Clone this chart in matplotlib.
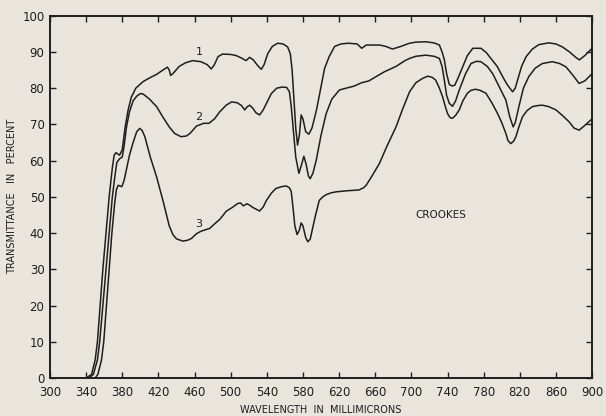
import matplotlib
matplotlib.use("Agg")
import matplotlib.pyplot as plt

# transmittance curves (wavelength in millimicrons, percent)
wl1 = [340, 346, 350, 352.5, 355.5, 358.5, 362, 365.5, 369, 371, 373, 377, 380, 383, 386.5, 390, 395,
       403, 410, 418, 425, 430, 432, 433.5, 436, 443, 450, 458, 467, 474, 478.5, 482, 486, 491, 500,
       506, 512, 517, 521, 525, 530, 534, 537, 541, 546, 552, 558, 563, 566, 568, 570, 572, 574, 576,
       578, 580, 583, 586.5, 590, 595, 600, 604, 609, 615, 622, 630, 640, 645, 650, 665, 672, 679, 687,
       698, 705, 716, 725, 731, 734, 736.5, 739, 742, 745, 748, 752, 757, 762, 768, 777, 783, 788, 795,
       801, 806, 812, 815, 817.5, 822, 827, 834, 841, 852, 860, 867, 875, 882, 886, 892, 898.5, 900]
t1 = [0, 1, 5, 10, 20, 30, 40, 50, 58, 61.5, 62.2, 61.5, 63, 69, 74, 77.5, 80,
      81.8, 82.8, 83.8, 85, 85.8, 85, 83.5, 84, 86, 87, 87.6, 87.3, 86.5, 85.3, 86.5, 88.7, 89.4, 89.3,
      89, 88.3, 87.6, 88.5, 87.8, 86.2, 85.2, 86.5, 89.5, 91.5, 92.4, 92.2, 91.4, 89.5, 85, 77, 69, 64.3, 67,
      72.6, 71.5, 68, 67.3, 69, 74, 80.4, 85.5, 88.7, 91.5, 92.2, 92.4, 92.2, 91, 91.9, 91.9, 91.5, 90.8, 91.4,
      92.4, 92.7, 92.8, 92.5, 91.9, 90, 87.8, 84, 81, 80.6, 80.8, 83, 86, 89, 91, 91, 89.8, 88.2, 86,
      83.2, 81, 79, 80, 82.2, 86, 88.7, 90.8, 92, 92.5, 92.2, 91.4, 90, 88.5, 87.8, 89, 90.6, 91]

wl2 = [343, 348, 352.5, 355, 358.5, 362, 365.5, 369, 372, 374, 377, 380, 382, 384.7, 388, 392, 396, 400,
       403, 410, 418, 425, 432, 438, 445, 451, 455, 462, 470, 476, 482, 488, 495, 501, 507, 512, 515.5,
       518, 521, 524, 528, 532, 536, 540, 545, 551, 557, 562, 565, 567, 569.5, 572, 575.5, 578, 581,
       583.5, 586, 588, 591, 594.6, 600, 605.7, 612, 620.4, 631, 637, 645, 653, 661, 670, 683, 688, 693,
       698, 705, 716, 725, 731, 734, 736.5, 739, 742, 745.6, 749, 753, 760, 766, 772, 777, 784, 790, 797,
       804.6, 809, 812.7, 815, 819, 824, 830, 837, 845, 856, 864, 871, 879, 885.6, 892, 898.5, 900]
t2 = [0, 1, 5, 10, 20, 30, 40, 50, 56, 59.5, 60.5, 61, 64, 69.3, 73.5, 76.5, 77.8, 78.5,
      78.4, 77, 74.9, 72, 69.3, 67.5, 66.6, 66.8, 67.5, 69.5, 70.3, 70.3, 71.5, 73.5, 75.3, 76.2, 76, 75.2, 74,
      74.8, 75.3, 74.6, 73.2, 72.6, 74, 76, 78.5, 80, 80.3, 80.2, 79, 75, 68, 61, 56.5, 58.5, 61.2,
      59, 55.8, 55, 56.5, 60, 67, 73, 77, 79.5, 80.2, 80.6, 81.5, 82, 83.2, 84.5, 86, 86.8, 87.6,
      88.2, 88.8, 89.1, 88.8, 88.2, 86, 82.2, 78, 75.8, 75, 76.5, 79.5, 84, 86.8, 87.4, 87.3, 86, 84, 80.5,
      76.7, 72, 69.3, 70.5, 74.9, 80, 83.2, 85.5, 86.8, 87.3, 86.8, 85.9, 83.5, 81.3, 82, 83.6, 84]

wl3 = [350, 353, 357, 359.5, 362.5, 365.5, 368.5, 371.5, 373.5, 375.5, 377.5, 379.5, 382, 385, 388, 392,
       396, 399.4, 402, 405, 411, 418, 425, 432, 436, 440, 447, 452, 456.5, 462, 467, 476.8, 482, 488,
       495, 502.5, 508, 511, 514, 516, 518, 521, 525, 532, 536, 539.5, 545, 550, 556, 561.5, 565, 567,
       569, 571, 573.5, 576, 578, 580, 583, 585.4, 588, 591, 594, 598, 602, 605.7, 611, 617, 630, 642,
       647, 650, 657, 664.6, 673, 683, 690, 698, 705, 712.5, 718, 723, 727, 731, 734.6, 737.5, 740, 743,
       745.6, 749, 753, 757, 762, 766, 771, 776, 782.5, 789, 795.4, 800, 804.6, 807, 810, 813, 815.7,
       819, 823, 828, 834, 840, 845, 852, 860, 867, 874.6, 880, 885.6, 891, 898.5, 900]
t3 = [0, 1, 5, 10, 20, 30, 40, 48, 52, 53.2, 53, 52.8, 54.5, 58, 61.5, 65,
      68, 68.9, 68.3, 66.6, 61, 55.5, 49, 42, 39.6, 38.4, 37.8, 38, 38.5, 39.8, 40.5, 41.3, 42.5, 43.8,
      46, 47.2, 48.2, 48.3, 47.5, 47.8, 48.1, 47.7, 47, 46.1, 47.2, 49, 51, 52.3, 52.8, 53, 52.5, 51.5,
      47, 42, 39.6, 40.8, 42.8, 42, 38.8, 37.6, 38.3, 41.7, 45, 49, 50, 50.6, 51.1, 51.4, 51.7, 51.9,
      52.5, 53.2, 56, 59.2, 64, 69.3, 74, 79, 81.5, 82.7, 83.3, 83, 82.2, 80, 77.6, 75, 73, 71.8,
      71.7, 72.5, 74, 76.5, 78.6, 79.4, 79.7, 79.4, 78.6, 76, 73, 70.5, 67.5, 65.5, 64.7, 65.3, 66.6,
      69.3, 72.1, 73.8, 74.9, 75.2, 75.3, 74.9, 74, 72.5, 70.7, 69, 68.4, 69.5, 71.2, 71.5]

xticks = list(range(300, 901, 40))
yticks = list(range(0, 101, 10))

bg = "#e9e5dc"
ink = "#1e1e1e"

fig = plt.figure(figsize=(6.06, 4.16), dpi=100, facecolor=bg)
ax = fig.add_axes([0.0825, 0.0913, 0.8945, 0.871])
ax.set_facecolor(bg)

for wl, t in ((wl1, t1), (wl2, t2), (wl3, t3)):
    ax.plot(wl, t, color=ink, lw=1.1, solid_joinstyle="round")

ax.set_xlim(300, 900)
ax.set_ylim(0, 100)
ax.set_xticks(xticks)
ax.set_yticks(yticks)
ax.tick_params(direction="in", length=4, width=1, colors=ink, labelsize=8.5,
               top=True, right=True, pad=4)
ax.tick_params(axis="x", pad=6)
for s in ax.spines.values():
    s.set_linewidth(1.4)
    s.set_color(ink)

# curve numbers and sample name
ax.text(465, 90, "1", fontsize=8, color=ink, ha="center", va="center")
ax.text(465, 72, "2", fontsize=8, color=ink, ha="center", va="center")
ax.text(465, 42.5, "3", fontsize=8, color=ink, ha="center", va="center")
ax.text(733, 45, "CROOKES", fontsize=7.5, color=ink, ha="center", va="center")

ax.set_xlabel("WAVELENGTH  IN  MILLIMICRONS", fontsize=7, color=ink, labelpad=4)
ax.set_ylabel("TRANSMITTANCE   IN   PERCENT", fontsize=7, color=ink, labelpad=4)

fig.savefig("out.png", dpi=100, facecolor=bg)
